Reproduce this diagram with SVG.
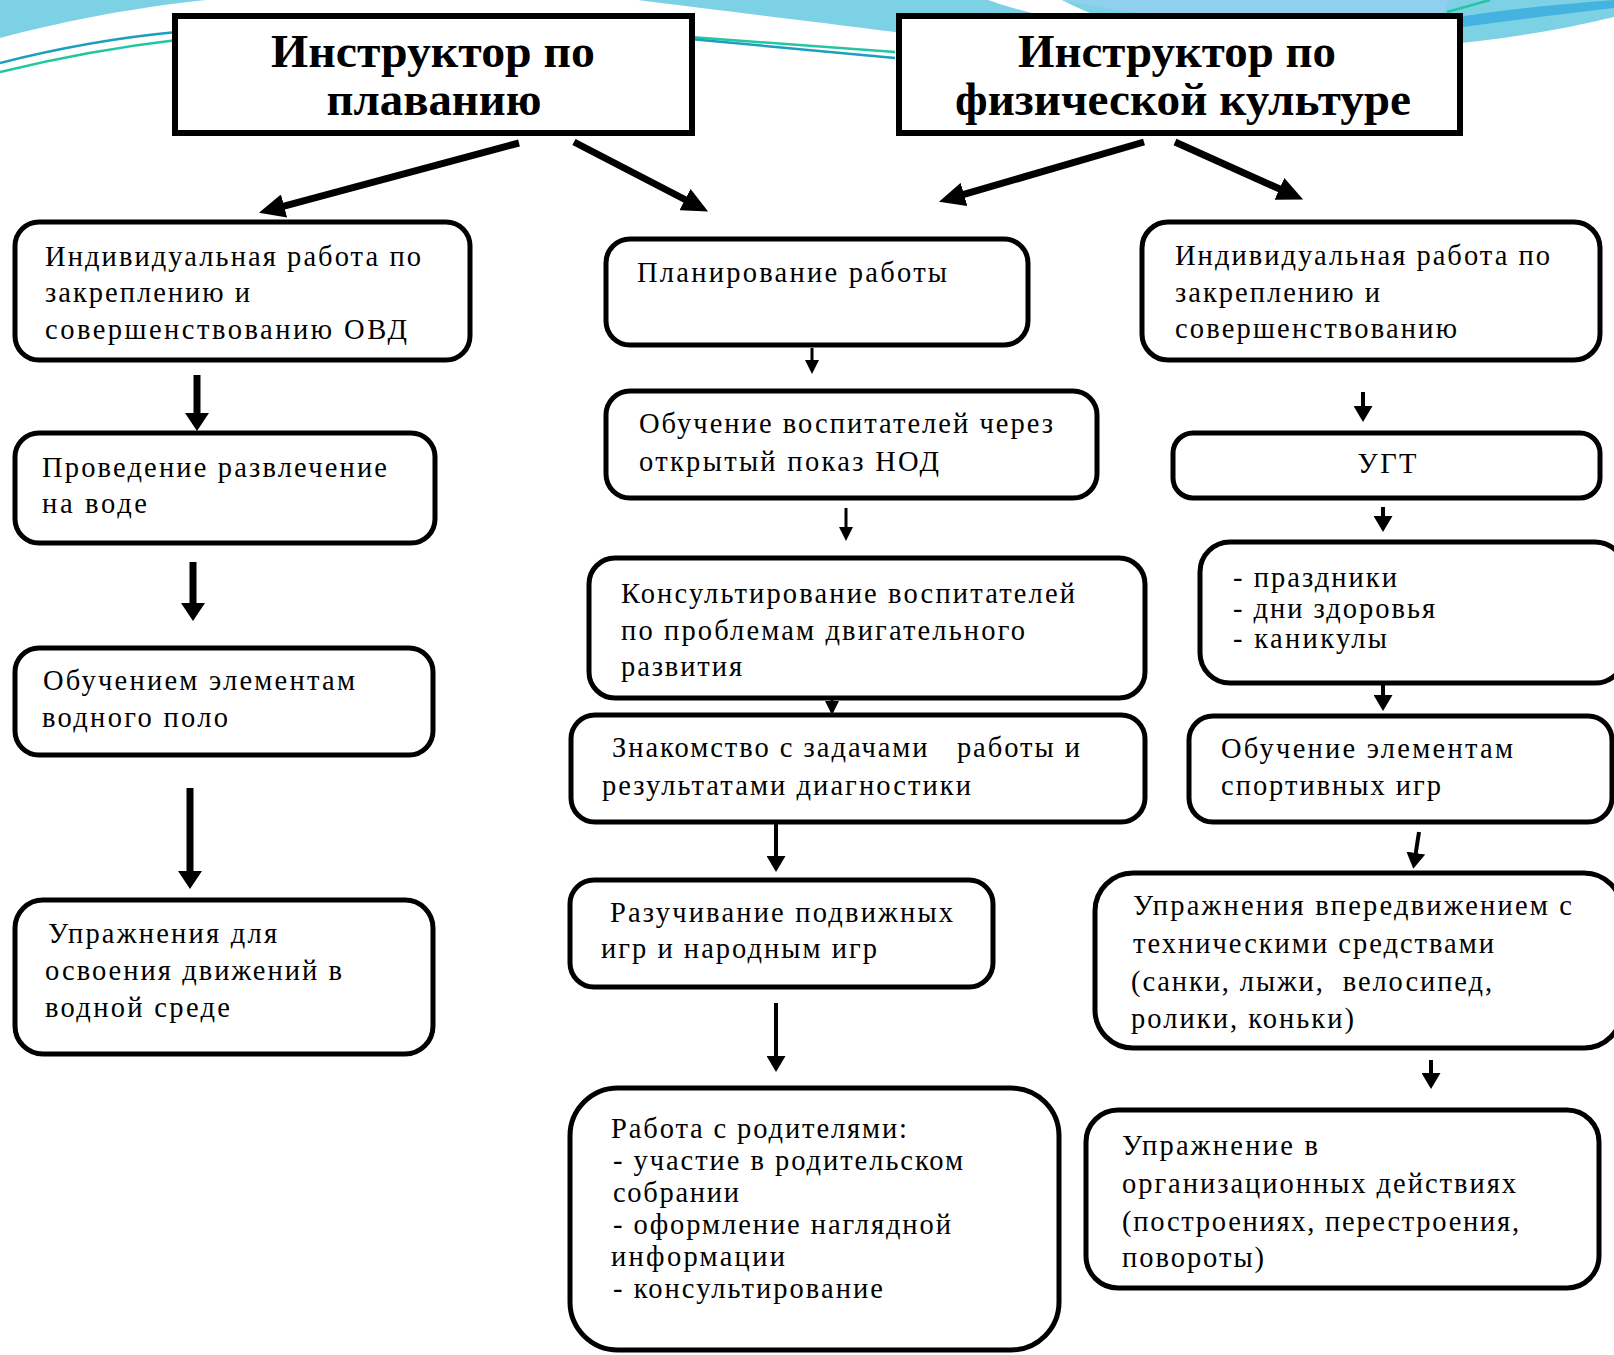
<svg xmlns="http://www.w3.org/2000/svg" width="1614" height="1355" viewBox="0 0 1614 1355">
<style>
.box{fill:#fff;stroke:#000;stroke-width:5}
.hbox{fill:#fff;stroke:#000;stroke-width:6}
.t{font-family:'Liberation Serif','Times New Roman',serif;font-size:28.5px;fill:#000;white-space:pre}
.h{font-family:'Liberation Serif','Times New Roman',serif;font-size:46px;font-weight:bold;fill:#000}
.thick{stroke:#000;stroke-width:7;fill:none}
.mid{stroke:#000;stroke-width:4;fill:none}
.thin{stroke:#000;stroke-width:3;fill:none}
.deco1{stroke:#1a9fbf;stroke-width:2.5;fill:none}
.deco2{stroke:#22c79f;stroke-width:2.5;fill:none}
</style>
<defs>
<marker id="mBig" markerUnits="userSpaceOnUse" markerWidth="26" markerHeight="24" refX="1" refY="12" orient="auto" viewBox="0 0 26 24"><path d="M0,0 L26,12 L0,24 z" fill="#000"/></marker>
<marker id="mL" markerUnits="userSpaceOnUse" markerWidth="18" markerHeight="24" refX="1" refY="12" orient="auto" viewBox="0 0 18 24"><path d="M0,0 L18,12 L0,24 z" fill="#000"/></marker>
<marker id="mM" markerUnits="userSpaceOnUse" markerWidth="16" markerHeight="19" refX="1" refY="9.5" orient="auto" viewBox="0 0 16 19"><path d="M0,0 L16,9.5 L0,19 z" fill="#000"/></marker>
<marker id="mS" markerUnits="userSpaceOnUse" markerWidth="14" markerHeight="14" refX="1" refY="7" orient="auto" viewBox="0 0 14 14"><path d="M0,0 L14,7 L0,14 z" fill="#000"/></marker>
</defs>
<rect width="1614" height="1355" fill="#fff"/>
<g id="decoration">
<path d="M0,0 L206,0 C130,8 60,22 0,38 Z" fill="#7dd1e4"/>
<path d="M638,0 L1614,0 L1614,17 C1560,30 1500,40 1440,45 C1200,60 1000,45 895,32 C800,20 700,8 638,0 Z" fill="#7dd1e4"/>
<path d="M988,0 L1062,0 C1100,20 1150,35 1200,45 C1100,30 1030,15 988,0 Z" fill="#ffffff"/>
<path d="M1062,0 L1450,0 L1440,20 C1300,30 1150,20 1062,0 Z" fill="#8fd0ee"/>
<path d="M1440,20 C1500,10 1560,4 1614,0 L1614,8 C1560,14 1500,22 1440,30 Z" fill="#45b3df"/>
<path class="deco2" d="M1447,12 L1490,0"/>
<path class="deco1" d="M0,63 Q90,40 177,32"/>
<path class="deco2" d="M0,72 Q90,50 177,40"/>
<path class="deco2" d="M690,37 L895,52"/>
<path class="deco1" d="M690,39 L895,58"/>
</g>
<g id="connectors">
<line class="thick" x1="519" y1="143" x2="283.1" y2="206.3" marker-end="url(#mBig)"/>
<line class="thick" x1="574" y1="142" x2="685.9" y2="200" marker-end="url(#mBig)"/>
<line class="thick" x1="1144" y1="142" x2="963" y2="194.7" marker-end="url(#mBig)"/>
<line class="thick" x1="1175" y1="142" x2="1280.3" y2="189.3" marker-end="url(#mBig)"/>
<line class="thick" x1="197" y1="375" x2="197" y2="414" marker-end="url(#mL)"/>
<line class="thick" x1="193" y1="562" x2="193" y2="604" marker-end="url(#mL)"/>
<line class="thick" x1="190" y1="788" x2="190" y2="872" marker-end="url(#mL)"/>
<line class="thin" x1="812" y1="348" x2="812" y2="361" marker-end="url(#mS)"/>
<line class="thin" x1="846" y1="508" x2="846" y2="528" marker-end="url(#mS)"/>
<line class="thin" x1="832" y1="698" x2="832" y2="702" marker-end="url(#mS)"/>
<line class="mid" x1="776" y1="823" x2="776" y2="857" marker-end="url(#mM)"/>
<line class="mid" x1="776" y1="1003" x2="776" y2="1057" marker-end="url(#mM)"/>
<line class="mid" x1="1363" y1="392" x2="1363" y2="407" marker-end="url(#mM)"/>
<line class="mid" x1="1383" y1="507" x2="1383" y2="517" marker-end="url(#mM)"/>
<line class="mid" x1="1383" y1="683" x2="1383" y2="696" marker-end="url(#mM)"/>
<line class="mid" x1="1419" y1="832" x2="1415.6" y2="854" marker-end="url(#mM)"/>
<line class="mid" x1="1431" y1="1060" x2="1431" y2="1074" marker-end="url(#mM)"/>
</g>
<g id="header-swim">
<rect class="hbox" x="175" y="16" width="517" height="117"/>
<text class="h" x="433" y="67" text-anchor="middle" textLength="324" lengthAdjust="spacingAndGlyphs">Инструктор по</text>
<text class="h" x="434" y="115" text-anchor="middle" textLength="215" lengthAdjust="spacingAndGlyphs">плаванию</text>
</g>
<g id="header-pe">
<rect class="hbox" x="899" y="16" width="561" height="117"/>
<text class="h" x="1177" y="67" text-anchor="middle" textLength="318" lengthAdjust="spacingAndGlyphs">Инструктор по</text>
<text class="h" x="1183" y="115" text-anchor="middle" textLength="456" lengthAdjust="spacingAndGlyphs">физической культуре</text>
</g>
<g id="L1">
<rect class="box" x="15" y="222" width="455" height="138" rx="24"/>
<text class="t" x="45" y="266" textLength="376">Индивидуальная работа по</text>
<text class="t" x="45" y="302" textLength="205">закреплению и</text>
<text class="t" x="45" y="339" textLength="362">совершенствованию ОВД</text>
</g>
<g id="L2">
<rect class="box" x="15" y="433" width="420" height="110" rx="24"/>
<text class="t" x="42" y="477" textLength="345">Проведение развлечение</text>
<text class="t" x="42" y="513" textLength="105">на воде</text>
</g>
<g id="L3">
<rect class="box" x="15" y="648" width="418" height="107" rx="24"/>
<text class="t" x="43" y="690" textLength="312">Обучением элементам</text>
<text class="t" x="42" y="727" textLength="186">водного поло</text>
</g>
<g id="L4">
<rect class="box" x="15" y="900" width="418" height="154" rx="28"/>
<text class="t" x="48" y="943" textLength="229">Упражнения для</text>
<text class="t" x="45" y="980" textLength="297">освоения движений в</text>
<text class="t" x="45" y="1017" textLength="185">водной среде</text>
</g>
<g id="M1">
<rect class="box" x="606" y="239" width="422" height="106" rx="24"/>
<text class="t" x="637" y="282" textLength="310">Планирование работы</text>
</g>
<g id="M2">
<rect class="box" x="606" y="391" width="491" height="107" rx="24"/>
<text class="t" x="639" y="433" textLength="414">Обучение воспитателей через</text>
<text class="t" x="639" y="471" textLength="300">открытый показ НОД</text>
</g>
<g id="M3">
<rect class="box" x="589" y="558" width="556" height="140" rx="26"/>
<text class="t" x="621" y="603" textLength="454">Консультирование воспитателей</text>
<text class="t" x="621" y="640" textLength="404">по проблемам двигательного</text>
<text class="t" x="621" y="676" textLength="121">развития</text>
</g>
<g id="M4">
<rect class="box" x="571" y="715" width="574" height="107" rx="24"/>
<text class="t" x="612" y="757" textLength="468" xml:space="preserve">Знакомство с задачами   работы и</text>
<text class="t" x="602" y="795" textLength="369">результатами диагностики</text>
</g>
<g id="M5">
<rect class="box" x="570" y="880" width="423" height="107" rx="24"/>
<text class="t" x="610" y="922" textLength="343">Разучивание подвижных</text>
<text class="t" x="601" y="958" textLength="276">игр и народным игр</text>
</g>
<g id="M6">
<rect class="box" x="570" y="1088" width="489" height="262" rx="48"/>
<text class="t" x="611" y="1138" textLength="296">Работа с родителями:</text>
<text class="t" x="613" y="1170" textLength="350">- участие в родительском</text>
<text class="t" x="613" y="1202" textLength="126">собрании</text>
<text class="t" x="613" y="1234" textLength="338">- оформление наглядной</text>
<text class="t" x="611" y="1266" textLength="174">информации</text>
<text class="t" x="613" y="1298" textLength="270">- консультирование</text>
</g>
<g id="R1">
<rect class="box" x="1142" y="222" width="458" height="138" rx="26"/>
<text class="t" x="1175" y="265" textLength="375">Индивидуальная работа по</text>
<text class="t" x="1175" y="302" textLength="205">закреплению и</text>
<text class="t" x="1175" y="338" textLength="282">совершенствованию</text>
</g>
<g id="R2">
<rect class="box" x="1173" y="433" width="427" height="65" rx="20"/>
<text class="t" x="1387" y="473" text-anchor="middle" textLength="59">УГТ</text>
</g>
<g id="R3">
<rect class="box" x="1200" y="542" width="425" height="141" rx="30"/>
<text class="t" x="1233" y="587" textLength="164">- праздники</text>
<text class="t" x="1233" y="618" textLength="202">- дни здоровья</text>
<text class="t" x="1233" y="648" textLength="154">- каникулы</text>
</g>
<g id="R4">
<rect class="box" x="1189" y="716" width="423" height="106" rx="24"/>
<text class="t" x="1221" y="758" textLength="292">Обучение элементам</text>
<text class="t" x="1221" y="795" textLength="220">спортивных игр</text>
</g>
<g id="R5">
<rect class="box" x="1095" y="873" width="527" height="175" rx="38"/>
<text class="t" x="1133" y="915" textLength="439">Упражнения впередвижением с</text>
<text class="t" x="1133" y="953" textLength="361">техническими средствами</text>
<text class="t" x="1131" y="991" textLength="361" xml:space="preserve">(санки, лыжи,  велосипед,</text>
<text class="t" x="1131" y="1028" textLength="223">ролики, коньки)</text>
</g>
<g id="R6">
<rect class="box" x="1086" y="1110" width="513" height="178" rx="32"/>
<text class="t" x="1122" y="1155" textLength="196">Упражнение в</text>
<text class="t" x="1122" y="1193" textLength="394">организационных действиях</text>
<text class="t" x="1122" y="1231" textLength="397">(построениях, перестроения,</text>
<text class="t" x="1122" y="1267" textLength="142">повороты)</text>
</g>
</svg>
